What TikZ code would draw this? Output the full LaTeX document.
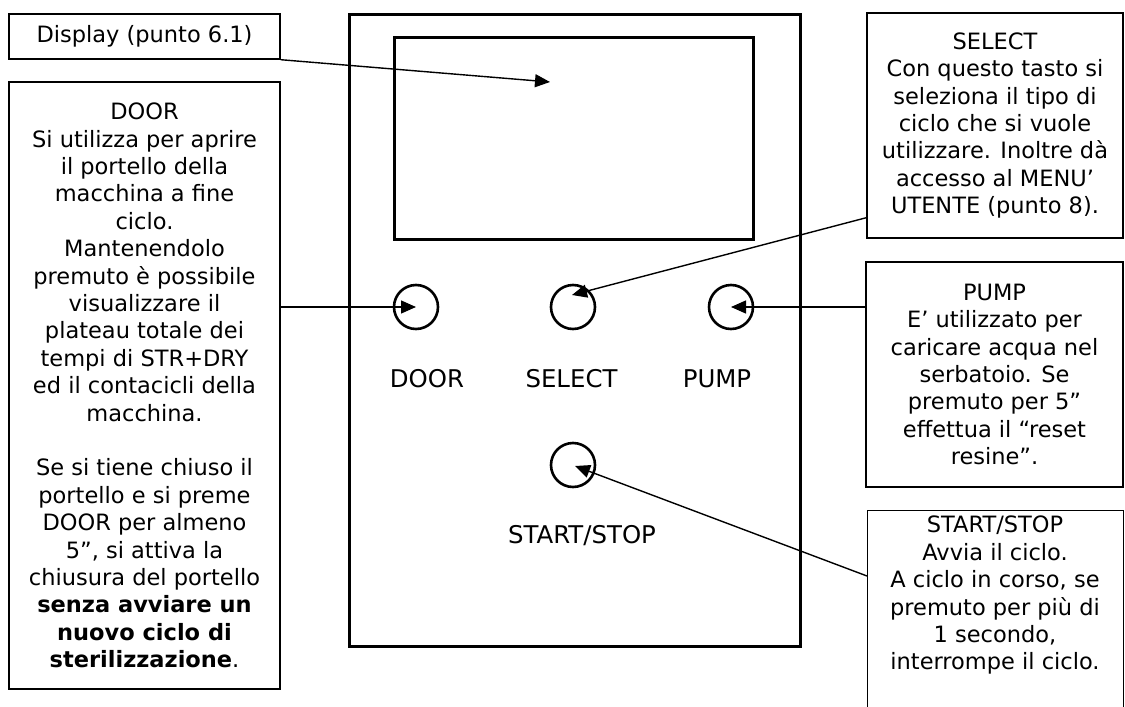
\documentclass[tikz,border=0pt]{standalone}
\usepackage{fontspec}
\setmainfont{DejaVu Sans}
\usetikzlibrary{arrows.meta, positioning}
\newcommand{\calloutfont}{\fontsize{22.5}{27.4}\selectfont}
\newcommand{\tastofont}{\fontsize{24.4}{29}\selectfont}

\begin{document}
\begin{tikzpicture}[x=1pt, y=-1pt, font=\calloutfont,
    callout/.style={draw, line width=1.4pt, align=center, inner sep=0pt},
    tasto/.style={circle, draw, line width=2.6pt, minimum size=44pt, inner sep=0pt},
    etichetta/.style={font=\tastofont, anchor=base},
    freccia/.style={-{Triangle[length=15pt, width=13pt]}, line width=1.4pt}]
    % area della figura
    \useasboundingbox[fill=white] (0,0) rectangle (1125,707);
    \clip (0,0) rectangle (1125,707);

    % pannello comandi e display
    \node[draw, line width=3pt, minimum width=451pt, minimum height=632pt, anchor=north west] (pannello) at (348,13) {};
    \node[draw, line width=2.5pt, minimum width=359pt, minimum height=202pt, anchor=north west] (schermo) at (393,36) {};

    % tasti
    \node[tasto] (tDoor) at (416,307) {};
    \node[tasto] (tSelect) at (573,307) {};
    \node[tasto] (tPump) at (731,307) {};
    \node[tasto] (tStart) at (573,465) {};

    % etichette dei tasti
    \node[etichetta] (eDoor) at (427,387) {DOOR};
    \node[etichetta] (eSelect) at (571.5,387) {SELECT};
    \node[etichetta] (ePump) at (717,387) {PUMP};
    \node[etichetta] (eStart) at (582,543) {START/STOP};

    % riquadri di spiegazione (sinistra)
    \node[callout, minimum width=271pt, minimum height=45pt] (cDisplay) at (144.5,36.5) {Display (punto 6.1)};
    \node[callout, minimum width=271pt, minimum height=607pt] (cDoor) at (144.5,385.5)
        {DOOR\\Si utilizza per aprire\\il portello della\\macchina a fine\\ciclo.\\Mantenendolo\\premuto è possibile\\visualizzare il\\plateau totale dei\\tempi di STR+DRY\\ed il contacicli della\\macchina.\\[27.4pt]Se si tiene chiuso il\\portello e si preme\\DOOR per almeno\\5”, si attiva la\\chiusura del portello\\\textbf{senza avviare un}\\\textbf{nuovo ciclo di}\\\textbf{sterilizzazione}.};

    % riquadri di spiegazione (destra)
    \node[callout, minimum width=256pt, minimum height=225pt] (cSelect) at (995,125.5)
        {SELECT\\Con questo tasto si\\seleziona il tipo di\\ciclo che si vuole\\utilizzare. Inoltre dà\\accesso al MENU’\\UTENTE (punto 8).};
    \node[callout, minimum width=257pt, minimum height=225pt] (cPump) at (994.5,374.5)
        {PUMP\\E’ utilizzato per\\caricare acqua nel\\serbatoio. Se\\premuto per 5”\\effettua il “reset\\resine”.};
    \node[callout, minimum width=256pt, minimum height=260pt, anchor=north west] (cStart) at (867,510) {};
    \node[align=center, inner sep=0pt, anchor=north] (tStartTxt) at (995,516)
        {START/STOP\\Avvia il ciclo.\\A ciclo in corso, se\\premuto per più di\\1 secondo,\\interrompe il ciclo.};

    % frecce
    \coordinate (pSchermo) at (550,82);
    \draw[freccia] (cDisplay.south east) -- (pSchermo);
    \draw[freccia] ([yshift=78.5pt]cDoor.east) -- (tDoor.center);
    \draw[freccia] ([yshift=21pt]cSelect.south west) -- ([shift={(-1pt,12pt)}]tSelect.center);
    \draw[freccia] ([yshift=67.5pt]cPump.west) -- (tPump.center);
    \draw[freccia] ([yshift=-66pt]cStart.north west) -- ([shift={(2pt,-1pt)}]tStart.center);
\end{tikzpicture}
\end{document}
